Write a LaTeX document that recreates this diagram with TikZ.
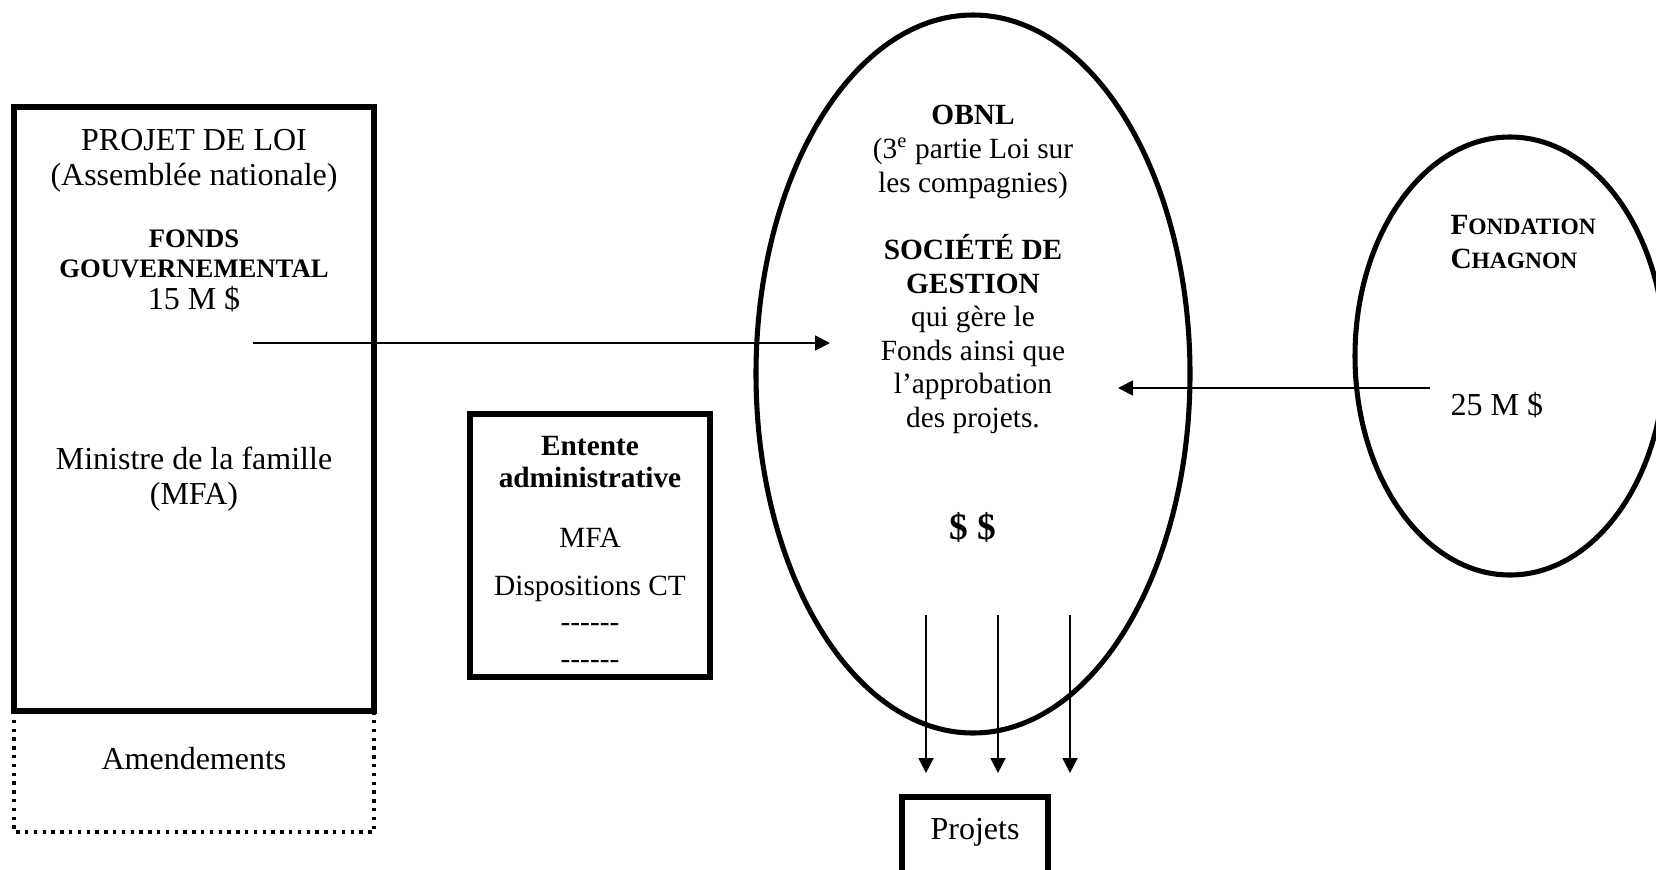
\documentclass[tikz,border=0pt]{standalone}
\usepackage{fontspec}
\setmainfont{Liberation Serif}
\usetikzlibrary{arrows.meta}

\newcommand{\petit}[1]{{\fontsize{8.8}{10}\selectfont #1}}
\newcommand{\tirets}{-\kern0pt-\kern0pt-\kern0pt-\kern0pt-\kern0pt-}

\tikzset{
    thickline/.style={line width=1.9pt},
    flow/.style={line width=0.7pt, -{Triangle[length=5.6pt,width=5.6pt]}},
    txt/.style={inner sep=0pt, align=center, font=\fontsize{12}{13}\selectfont},
    smalltxt/.style={inner sep=0pt, align=center, font=\fontsize{11}{12.6}\selectfont},
}

\begin{document}
\begin{tikzpicture}[x=0.375pt, y=-0.375pt]
    % Page frame
    \clip (0,0) rectangle (1656,869);

    % Draw Basic Shapes
    \draw[thickline] (14,107) rectangle (374,711);
    \draw[line width=1.3pt, dash pattern=on 1.3pt off 2pt] (14,711) -- (14,832) -- (374,832) -- (374,711);
    \draw[thickline] (470,414) rectangle (710,677);
    \draw[thickline] (973,374) ellipse [x radius=217, y radius=359];
    \draw[thickline] (1510,356) ellipse [x radius=155, y radius=219];
    \draw[thickline] (902,797) rectangle (1048,900);

    % Projet de loi
    \node[txt] (loi) at (194,161) {PROJET DE LOI\\(Assemblée nationale)};
    \node[txt, font=\fontsize{10}{11.2}\selectfont\bfseries] (fonds) at (194,254) {FONDS\\GOUVERNEMENTAL};
    \node[txt] (montant) at (194,299) {15 M \$};
    \node[txt] (mfa) at (194,479) {Ministre de la famille\\(MFA)};
    \node[txt] (amend) at (194,759) {Amendements};

    % Entente administrative
    \node[smalltxt, font=\fontsize{11}{11.8}\selectfont\bfseries] (entente) at (590,462) {Entente\\administrative};
    \node[smalltxt, font=\fontsize{11}{17.8}\selectfont] (dispo) at (590,565) {MFA\\Dispositions CT};
    \node[smalltxt, font=\fontsize{11}{13.9}\selectfont] (blancs) at (590,646) {\tirets\\\tirets};

    % -- OBNL
    \node[smalltxt] (obnl) at (973,152) {\textbf{OBNL}\\(3\textsuperscript{e} partie Loi sur\\les compagnies)};
    \node[smalltxt] (gestion) at (973,334) {\textbf{SOCIÉTÉ DE}\\\textbf{GESTION}\\qui gère le\\Fonds ainsi que\\l’approbation\\des projets.};
    \node[txt, font=\fontsize{14}{16}\selectfont\bfseries] (argent) at (973,527) {\$ \$};
    \node[txt] (projets) at (975,832) {Projets};

    % -- Fondation
    \node[smalltxt, align=left, anchor=west, font=\fontsize{11}{12.8}\selectfont\bfseries] (chagnon) at (1450,242) {F\petit{ONDATION}\\C\petit{HAGNON}};
    \node[txt, anchor=west] (don) at (1450,405) {25 M \$};

    % Flows
    \coordinate (fondsout) at (253,343);
    \coordinate (fondsin) at (830,343);
    \draw[flow] (fondsout) -- (fondsin);
    \coordinate (chagnonout) at (1430,388);
    \coordinate (chagnonin) at (1118,388);
    \draw[flow] (chagnonout) -- (chagnonin);
    \foreach \x [count=\i] in {926,998,1070} {
        \coordinate (verse\i) at (\x,615);
        \coordinate (recu\i) at (\x,773);
        \draw[flow] (verse\i) -- (recu\i);
    }
\end{tikzpicture}
\end{document}
